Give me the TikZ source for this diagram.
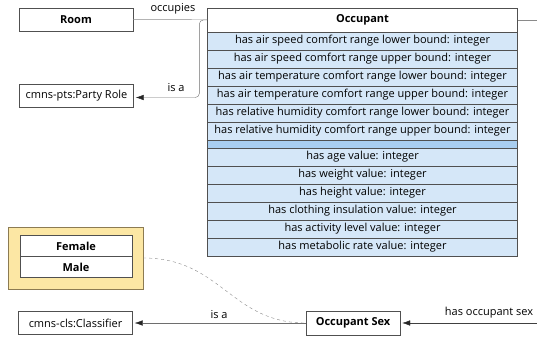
\documentclass[tikz,border=0pt]{standalone}
\usepackage{fontspec}
\setmainfont{Open Sans}
\usetikzlibrary{positioning, arrows.meta}

\definecolor{rowblue}{HTML}{D5E7F8}
\definecolor{gapblue}{HTML}{A9CEF0}
\definecolor{enumyellow}{HTML}{FCE7A4}
\definecolor{enumedge}{HTML}{8C7B52}
\definecolor{edgegray}{HTML}{505050}
\definecolor{linkgray}{HTML}{8A8A8A}

\tikzstyle{block} = [rectangle, draw=edgegray, fill=white, %rounded corners,
     minimum width=114pt, minimum height=23pt, inner sep=0pt, font=\fontsize{11}{13}\selectfont]
\tikzstyle{classhead} = [block, font=\fontsize{11}{13}\selectfont\bfseries]
\tikzstyle{attr} = [rectangle, draw=edgegray, fill=rowblue, minimum width=310pt,
     minimum height=18pt, inner sep=0pt, font=\fontsize{11}{13}\selectfont]
\tikzstyle{line} = [draw=linkgray!80!black, -{Latex[length=8pt, width=5.5pt, color=black!85]}, shorten >=2pt]
\tikzstyle{edgetext} = [font=\fontsize{11}{13}\selectfont, inner sep=0pt]

\begin{document}
\begin{tikzpicture}[x=1pt, y=-1pt, node distance=18pt]
    \useasboundingbox (0,0) rectangle (537,339);

    % Place nodes
    \node [classhead] (room) at (76,19.5) {Room};
    \node [block] (party_role) at (76.5,96) {cmns-pts:Party Role};
    \node [block] (classifier) at (75.5,323) {cmns-cls:Classifier};
    \node [classhead, minimum width=94pt, minimum height=24pt] (occupant_sex) at (353,323) {Occupant Sex};

    \node [classhead, minimum width=310pt, minimum height=24pt] (occupant) at (362.5,20) {Occupant};
    \node [attr, below of=occupant, node distance=21pt] (air_speed_low) {has air speed comfort range lower bound: integer};
    \node [attr, below of=air_speed_low] (air_speed_up) {has air speed comfort range upper bound: integer};
    \node [attr, below of=air_speed_up] (air_temp_low) {has air temperature comfort range lower bound: integer};
    \node [attr, below of=air_temp_low] (air_temp_up) {has air temperature comfort range upper bound: integer};
    \node [attr, below of=air_temp_up] (humidity_low) {has relative humidity comfort range lower bound: integer};
    \node [attr, below of=humidity_low] (humidity_up) {has relative humidity comfort range upper bound: integer};
    \node [attr, fill=gapblue, minimum height=8pt, below of=humidity_up, node distance=13pt] (separator) {};
    \node [attr, below of=separator, node distance=13pt] (age) {has age value: integer};
    \node [attr, below of=age] (weight) {has weight value: integer};
    \node [attr, below of=weight] (height) {has height value: integer};
    \node [attr, below of=height] (clothing) {has clothing insulation value: integer};
    \node [attr, below of=clothing] (activity) {has activity level value: integer};
    \node [attr, below of=activity] (metabolic) {has metabolic rate value: integer};

    \node [rectangle, draw=enumedge, fill=enumyellow, minimum width=135pt, minimum height=62pt] (sex_values) at (75.5,258) {};
    \node [classhead, minimum width=112pt, minimum height=21pt] (female) at (76,246) {Female};
    \node [classhead, minimum width=112pt, minimum height=21pt, below of=female, node distance=21pt] (male) {Male};

    \coordinate (out_top) at (537,20);
    \coordinate (out_bottom) at (537,323);

    % Draw edges
    \path [draw=linkgray] (room) -- (occupant);
    \path [line, rounded corners=4pt] (occupant.west) -- ++(-8,0) |- ([yshift=-1.5pt]party_role.east);
    \path [draw=linkgray] (occupant.east) -- (out_top);
    \path [line, draw=black!75] (out_bottom) -- (occupant_sex);
    \path [line] (occupant_sex) -- (classifier);
    \draw [linkgray, dashed] (sex_values.east) .. controls +(78,0) and +(-75,0) .. (occupant_sex.west);

    % Edge labels
    \node [edgetext] (occupies_text) at (173,9) {occupies};
    \node [edgetext] (is_a_text) at (176,88) {is a};
    \node [edgetext] (is_a_text2) at (219,315) {is a};
    \node [edgetext] (has_sex_text) at (489,313) {has occupant sex};

\end{tikzpicture}
\end{document}
